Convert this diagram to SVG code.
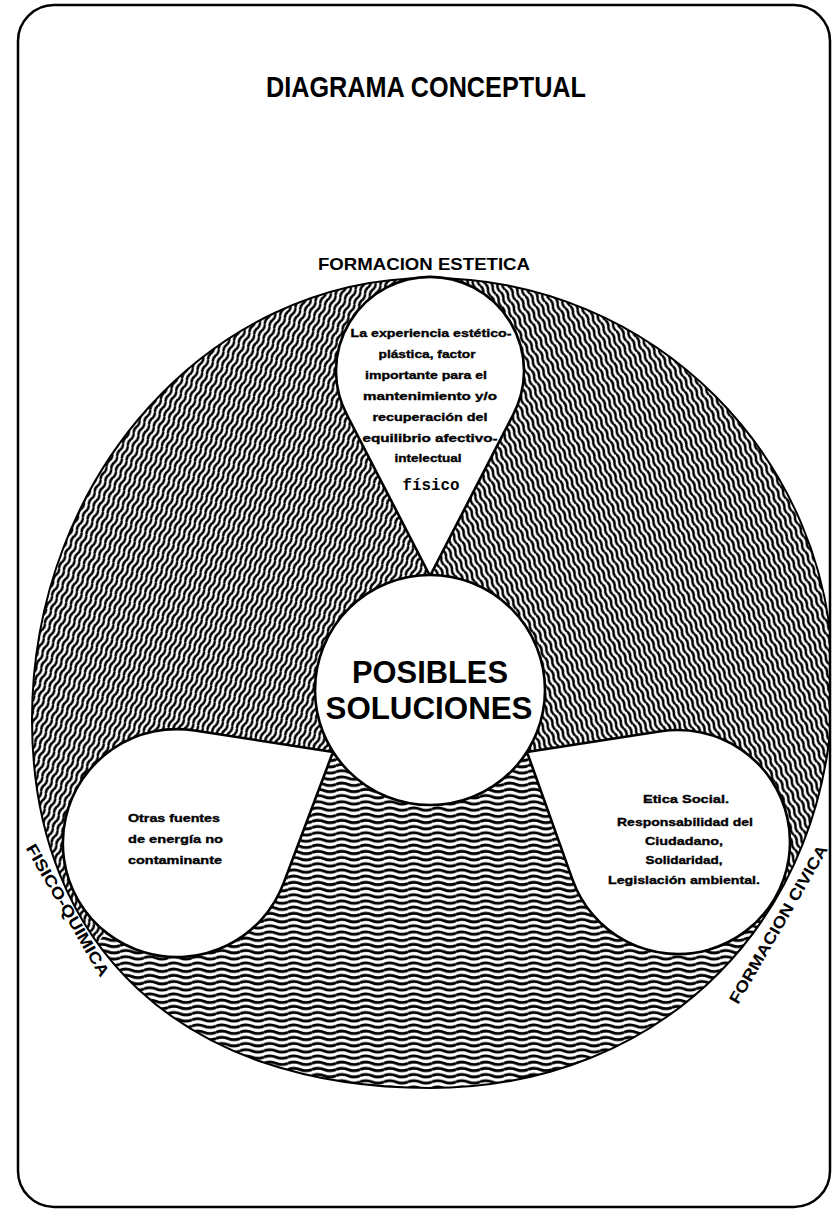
<svg xmlns="http://www.w3.org/2000/svg" width="835" height="1209" viewBox="0 0 835 1209">
<style>
.ol{stroke:#000;stroke-width:2.6;fill:#fff}
.t{font-family:"Liberation Sans",Arial,sans-serif;font-weight:bold;fill:#000}
.s{font-size:11px;stroke:#000;stroke-width:0.35}
.c{text-anchor:middle}
</style>
<defs>
<path id="bigShape" d="M430,278 C652.6,278 833,458 833,680 C833,916.6 663.7,1088 430,1088 C183.2,1088 32,948 32,720 C32,476 210.2,278 430,278 Z"/>
<pattern id="hz" width="24" height="6.2" patternUnits="userSpaceOnUse">
<path d="M0,3.1 Q6,0.6 12,3.1 T24,3.1" fill="none" stroke="#000" stroke-width="3"/>
</pattern>
<pattern id="dl" width="14" height="5.2" patternUnits="userSpaceOnUse" patternTransform="rotate(-65)">
<path d="M0,2.6 Q3.5,0.8 7,2.6 T14,2.6" fill="none" stroke="#000" stroke-width="2.5"/>
</pattern>
<pattern id="dr" width="14" height="5.2" patternUnits="userSpaceOnUse" patternTransform="rotate(65)">
<path d="M0,2.6 Q3.5,0.8 7,2.6 T14,2.6" fill="none" stroke="#000" stroke-width="2.5"/>
</pattern>
<clipPath id="cTL"><polygon points="430,690 333,752 177,843 104,935 -10,1079 -10,-10 430,-10"/></clipPath>
<clipPath id="cTR"><polygon points="430,690 430,-10 845,-10 845,946 774,902 678,842 527,752"/></clipPath>
<clipPath id="cB"><polygon points="430,690 527,752 678,842 774,902 845,946 845,1220 -10,1220 -10,1079 104,935 177,843 333,752"/></clipPath>
<clipPath id="frameClip"><rect x="18" y="5" width="812" height="1202" rx="36"/></clipPath>
</defs>
<rect width="835" height="1209" fill="#fff"/>
<g id="title">
<text class="t" x="426" y="97" font-size="30" text-anchor="middle" textLength="320" lengthAdjust="spacingAndGlyphs">DIAGRAMA CONCEPTUAL</text>
</g>
<g id="big-circle" clip-path="url(#frameClip)">
<use href="#bigShape" fill="url(#dl)" clip-path="url(#cTL)"/>
<use href="#bigShape" fill="url(#dr)" clip-path="url(#cTR)"/>
<use href="#bigShape" fill="url(#hz)" clip-path="url(#cB)"/>
<use href="#bigShape" fill="none" stroke="#000" stroke-width="2"/>
</g>
<g id="connectors"></g>
<g id="node-top">
<path class="ol" d="M430,576 L347,415 A94,94 0 1 1 513,415 Z"/>
<text class="t s c" x="431" y="337" textLength="161" lengthAdjust="spacingAndGlyphs">La experiencia estético-</text>
<text class="t s c" x="427" y="358" textLength="97" lengthAdjust="spacingAndGlyphs">plástica, factor</text>
<text class="t s c" x="426" y="379" textLength="122" lengthAdjust="spacingAndGlyphs">importante para el</text>
<text class="t s c" x="430" y="400" textLength="134" lengthAdjust="spacingAndGlyphs">mantenimiento y/o</text>
<text class="t s c" x="430" y="421" textLength="115" lengthAdjust="spacingAndGlyphs">recuperación del</text>
<text class="t s c" x="430" y="442" textLength="135" lengthAdjust="spacingAndGlyphs">equilibrio afectivo-</text>
<text class="t s c" x="428" y="462" textLength="67" lengthAdjust="spacingAndGlyphs">intelectual</text>
<text x="431" y="490" font-family="'Liberation Mono','Courier New',monospace" font-weight="bold" font-size="17" text-anchor="middle" textLength="57" lengthAdjust="spacingAndGlyphs">físico</text>
</g>
<g id="node-left">
<path class="ol" d="M333,752 L194.6,730.5 A114,114 0 1 0 283.6,883.1 Z"/>
<text class="t s" x="128" y="822" textLength="92" lengthAdjust="spacingAndGlyphs">Otras fuentes</text>
<text class="t s" x="128" y="843" textLength="95" lengthAdjust="spacingAndGlyphs">de energía no</text>
<text class="t s" x="128" y="864" textLength="94" lengthAdjust="spacingAndGlyphs">contaminante</text>
</g>
<g id="node-right">
<path class="ol" d="M527,752 L660.9,731.3 A112,112 0 1 1 572.5,879.6 Z"/>
<text class="t s c" x="686" y="803" textLength="86" lengthAdjust="spacingAndGlyphs">Etica Social.</text>
<text class="t s c" x="685" y="826" textLength="136" lengthAdjust="spacingAndGlyphs">Responsabilidad del</text>
<text class="t s c" x="684" y="845" textLength="78" lengthAdjust="spacingAndGlyphs">Ciudadano,</text>
<text class="t s c" x="684" y="864" textLength="77" lengthAdjust="spacingAndGlyphs">Solidaridad,</text>
<text class="t s c" x="684" y="884" textLength="152" lengthAdjust="spacingAndGlyphs">Legislación ambiental.</text>
</g>
<g id="node-center">
<circle class="ol" cx="430" cy="690" r="115"/>
<text class="t c" x="430" y="683" font-size="32" textLength="156" lengthAdjust="spacingAndGlyphs">POSIBLES</text>
<text class="t c" x="429" y="719" font-size="32" textLength="207" lengthAdjust="spacingAndGlyphs">SOLUCIONES</text>
</g>
<g id="labels">
<text class="t c" x="424" y="270" font-size="16.5" textLength="212" lengthAdjust="spacingAndGlyphs">FORMACION ESTETICA</text>
<text class="t c" font-size="16" transform="translate(63,913) rotate(60)" textLength="150" lengthAdjust="spacingAndGlyphs">FISICO-QUIMICA</text>
<text class="t c" font-size="16" transform="translate(783,927) rotate(-60)" textLength="180" lengthAdjust="spacingAndGlyphs">FORMACION CIVICA</text>
</g>
<g id="frame">
<rect x="18" y="5" width="812" height="1202" rx="36" fill="none" stroke="#000" stroke-width="2.5"/>
</g>
</svg>
